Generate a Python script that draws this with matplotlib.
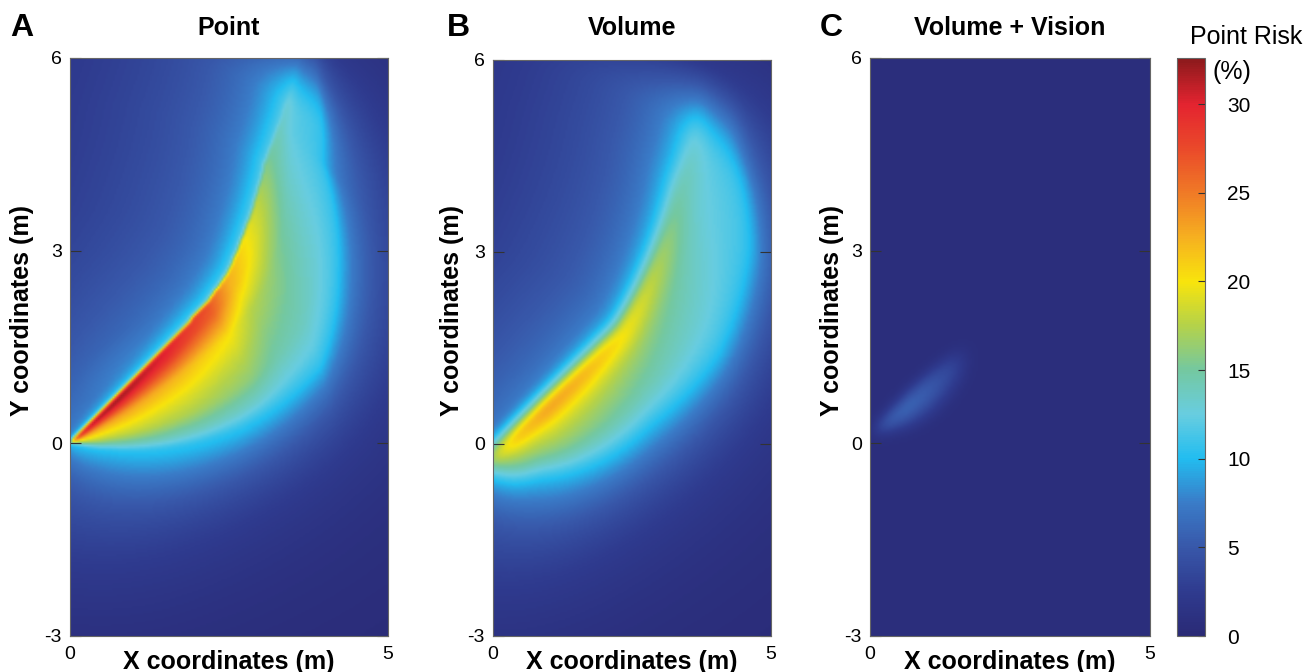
import numpy as np
import matplotlib
matplotlib.use("Agg")
import matplotlib.pyplot as plt
from matplotlib.colors import LinearSegmentedColormap

plt.rcParams['font.family'] = ['Liberation Sans', 'DejaVu Sans']
plt.rcParams['axes.unicode_minus'] = False

# colour bar
CMAP_VALUES = [0, 2.5, 5, 7.5, 10, 12.5, 15, 17.5, 20, 22.5, 25, 27.5, 30, 32.6]
CMAP_COLORS = ['#2a2a76', '#2f3b8f', '#3858aa', '#3a7cc8', '#22bdf0', '#68cde0',
               '#74c8a0', '#b4d24a', '#f8e40c', '#f6b020', '#f07a26', '#ea4a2a',
               '#e42430', '#8c1a1c']
VMAX = 32.6
CBAR_TICKS = [0, 5, 10, 15, 20, 25, 30]

LETTERS = ['A', 'B', 'C']
TITLES = ['Point', 'Volume', 'Volume + Vision']
X_TICKS = [0, 5]
Y_TICKS = [-3, 0, 3, 6]

# fraction of (edge value - rim value) across the crescent, edge -> outer rim
ACROSS_T = [0, 0.1, 0.2, 0.3, 0.5, 0.7, 0.88, 1.0]
ACROSS_FRAC = [1, 0.92, 0.74, 0.57, 0.43, 0.32, 0.16, 0]

# A: point source
A_SOURCE = (0.0, 0.0)
A_EDGE_R = [0, 3.0, 3.6, 4.2, 5.3, 6.9, 7.5]
A_EDGE_DEG = [45, 45.5, 47, 50, 55, 59, 60]
A_OUTER_R = [0, 0.6, 2.7, 4.1, 5.0, 5.9, 6.9, 7.5]
A_OUTER_DEG = [-18, -10, 5, 17, 33, 48, 56, 59]
A_VAL_R = [0, 1, 2, 3, 3.5, 4, 4.5, 5, 5.5, 6, 7]
A_VAL = [34, 33, 31, 27.5, 23, 21, 19, 17, 15, 13.5, 11.5]
A_TIP = (6.2, 7.6)

# B: volume
B_SOURCE = (-0.3, -0.33)
B_EDGE_R = [0, 3.3, 4.5, 5.6, 7.0, 7.6]
B_EDGE_DEG = [40, 40.5, 46, 51, 55, 56]
B_OUTER_R = [0, 0.35, 1.1, 3.2, 4.7, 6.0, 6.8, 7.6]
B_OUTER_DEG = [-40, -30, -9, 12, 22, 35, 47, 53]
B_VAL_R = [0, 0.8, 1.5, 2.3, 3.0, 3.8, 4.6, 5.6, 7.0]
B_VAL = [23, 26.5, 27, 25, 23, 20.5, 18, 15, 12]
B_TIP = (6.3, 7.6)

# C: volume + vision
C_SOURCE = (0.0, 0.14)
C_EDGE_R = [0, 2.3, 2.6]
C_EDGE_DEG = [48, 39, 39]
C_OUTER_R = [0, 1.2, 2.3, 2.6]
C_OUTER_DEG = [-10, 12, 33, 36]
C_VAL_R = [0, 0.7, 1.2, 1.8, 2.3]
C_VAL = [5.0, 6.0, 5.0, 3.0, 0.5]
C_TIP = (1.8, 2.4)
C_BASE = 0.7

h = 0.03
gx = np.arange(-5, 10, h)
gy = np.arange(-8, 12, h)
X, Y = np.meshgrid(gx, gy)


def blur(F, sigma):
    ky = np.fft.fftfreq(F.shape[0], d=h)
    kx = np.fft.rfftfreq(F.shape[1], d=h)
    G = np.exp(-2 * (np.pi * sigma) ** 2 * (ky[:, None] ** 2 + kx[None, :] ** 2))
    return np.fft.irfft2(np.fft.rfft2(F) * G, s=F.shape)


def crescent(src, edge_r, edge_deg, outer_r, outer_deg, val_r, val, tip):
    dx = X - src[0]
    dy = Y - src[1]
    r = np.hypot(dx, dy)
    th = np.degrees(np.arctan2(dy, dx))
    th_in = np.interp(r, edge_r, edge_deg)
    th_out = np.interp(r, outer_r, outer_deg)
    w = np.maximum(th_in - th_out, 1.0)
    t = (th_in - th) / w
    arc = np.radians(w) * np.maximum(r, 0.05)
    E = np.interp(r, val_r, val)
    fade = np.clip((tip[1] - r) / (tip[1] - tip[0]), 0, 1)
    fade = fade * fade * (3 - 2 * fade)
    return r, t, arc, E, fade


def risk(src, edge_r, edge_deg, outer_r, outer_deg, val_r, val, tip,
         rim=10.5, halo=12.0, out_len=0.32):
    r, t, arc, E, fade = crescent(src, edge_r, edge_deg, outer_r, outer_deg, val_r, val, tip)
    inside = rim + (E - rim) * np.interp(t, ACROSS_T, ACROSS_FRAC)
    mask = ((t >= 0) & (t <= 1)) * fade
    glow = (0.3 + 10.0 * blur(mask, 0.8) + 12.0 * blur(mask, 2.0)
            + 3.0 * np.exp(-(r / 2.3) ** 2))
    d_out = np.maximum(t - 1, 0) * arc
    d_up = np.maximum(-t, 0) * arc
    out = glow + np.maximum(rim - glow, 0) * np.exp(-d_out / out_len)
    hv = np.minimum(E, halo)
    broad = 7.5 * np.exp(-d_up / 3.0)
    up = np.maximum(glow, broad + (hv - 7.5) * np.exp(-d_up / (0.05 + 0.07 * r)))
    V = np.where(t > 1, out, np.where(t < 0, up, inside))
    return glow + (V - glow) * fade


FA = blur(risk(A_SOURCE, A_EDGE_R, A_EDGE_DEG, A_OUTER_R, A_OUTER_DEG, A_VAL_R, A_VAL, A_TIP), 0.03)
FB = blur(risk(B_SOURCE, B_EDGE_R, B_EDGE_DEG, B_OUTER_R, B_OUTER_DEG, B_VAL_R, B_VAL, B_TIP), 0.12)

r, t, arc, E, fade = crescent(C_SOURCE, C_EDGE_R, C_EDGE_DEG, C_OUTER_R, C_OUTER_DEG,
                              C_VAL_R, C_VAL, C_TIP)
coreC = np.where((t >= 0) & (t <= 1), E * np.interp(t, [0, 0.4, 1], [0.8, 1, 0]), 0.0) * fade
FC = C_BASE + blur(coreC, 0.1)

fields = [FA, FB, FC]

cmap = LinearSegmentedColormap.from_list(
    'risk', [(v / VMAX, c) for v, c in zip(CMAP_VALUES, CMAP_COLORS)])

W, H = 1306, 672
fig = plt.figure(figsize=(W / 100, H / 100), dpi=100)

# axes boxes in pixels: left, right, top, bottom
boxes = [(70, 388, 58, 636), (493, 771, 60, 636), (870, 1150, 58, 636)]
letter_x = [10, 447, 820]
ylabel_x = [22, 452, 832]

for i, F in enumerate(fields):
    l, rr, tt, b = boxes[i]
    ax = fig.add_axes([l / W, 1 - b / H, (rr - l) / W, (b - tt) / H])
    im = ax.imshow(F, origin='lower', extent=[gx[0], gx[-1] + h, gy[0], gy[-1] + h],
                   cmap=cmap, vmin=0, vmax=VMAX, aspect='auto', interpolation='bilinear')
    ax.set_xlim(0, 5)
    ax.set_ylim(-3, 6)
    ax.set_xticks(X_TICKS)
    ax.set_yticks(Y_TICKS)
    ax.tick_params(axis='y', direction='in', length=8, width=0.8, color='#333333',
                   right=True, labelsize=14, pad=6)
    ax.tick_params(axis='x', direction='in', length=0, labelsize=14, pad=7)
    for s in ax.spines.values():
        s.set_linewidth(0.8)
        s.set_color('#666666')
    cx = (l + rr) / 2
    fig.text(cx / W, 1 - 28 / H, TITLES[i], fontsize=18, fontweight='bold',
             ha='center', va='center')
    fig.text(letter_x[i] / W, 1 - 28 / H, LETTERS[i], fontsize=23, fontweight='bold',
             ha='left', va='center')
    fig.text(cx / W, 1 - 662 / H, 'X coordinates (m)', fontsize=18, fontweight='bold',
             ha='center', va='center')
    fig.text(ylabel_x[i] / W, 1 - 310 / H, 'Y coordinates (m)', fontsize=18,
             fontweight='bold', rotation=90, ha='center', va='center')

cax = fig.add_axes([1177 / W, 1 - 636 / H, 28 / W, 578 / H])
cb = fig.colorbar(im, cax=cax, ticks=CBAR_TICKS)
cb.outline.set_linewidth(0.8)
cb.outline.set_edgecolor('#666666')
cax.tick_params(direction='in', length=5, width=0.8, color='#333333', labelsize=15, pad=16)
fig.text(1246 / W, 1 - 37 / H, 'Point Risk', fontsize=18, ha='center', va='center')
fig.text(1232 / W, 1 - 72 / H, '(%)', fontsize=18, ha='center', va='center')

fig.savefig('out.png', dpi=100)
